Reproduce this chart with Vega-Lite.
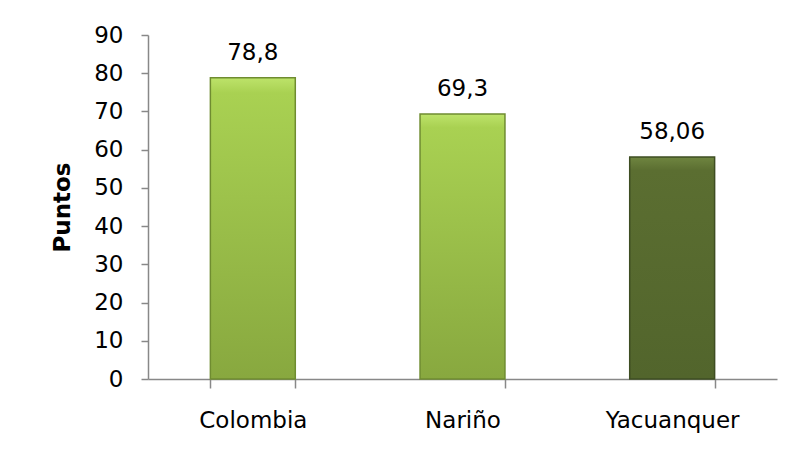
{
  "$schema": "https://vega.github.io/schema/vega-lite/v6.json",
  "autosize": {"type": "none"},
  "padding": {"left": 148, "top": 35, "right": 19, "bottom": 82},
  "width": 629,
  "height": 344,
  "background": "white",
  "config": {
    "locale": {"number": {"decimal": ",", "thousands": ".", "grouping": [3], "currency": ["", ""]}},
    "view": {"stroke": null},
    "font": "DejaVu Sans"
  },
  "data": {"values": [
    {"region": "Colombia", "puntos": 78.8},
    {"region": "Nariño", "puntos": 69.3},
    {"region": "Yacuanquer", "puntos": 58.06}
  ]},
  "encoding": {
    "x": {
      "field": "region", "type": "nominal", "sort": null,
      "scale": {"paddingInner": 0.595, "paddingOuter": 0.2975},
      "axis": {
        "title": null, "labelAngle": 0, "labelFont": "DejaVu Sans", "labelFontSize": 23,
        "labelColor": "black", "labelPadding": 21, "tickBand": "extent", "tickSize": 9,
        "domainColor": "#888888", "tickColor": "#888888", "domainWidth": 1.5, "tickWidth": 1.5
      }
    },
    "y": {
      "field": "puntos", "type": "quantitative",
      "scale": {"domain": [0, 90], "nice": false},
      "axis": {
        "title": "Puntos", "values": [0, 10, 20, 30, 40, 50, 60, 70, 80, 90],
        "grid": false, "labelFont": "DejaVu Sans", "labelFontSize": 23, "labelColor": "black",
        "labelPadding": 18, "tickSize": 7, "domainColor": "#888888", "tickColor": "#888888",
        "domainWidth": 1.5, "tickWidth": 1.5,
        "titleFont": "DejaVu Sans", "titleFontSize": 23, "titleFontWeight": "bold",
        "titleColor": "black", "titlePadding": 19
      }
    }
  },
  "layer": [
    {
      "mark": {"type": "bar", "strokeWidth": 1.5},
      "encoding": {
        "color": {
          "condition": {
            "test": "datum.region === 'Yacuanquer'",
            "value": {"gradient": "linear", "x1": 0, "y1": 0, "x2": 0, "y2": 1,
              "stops": [{"offset": 0, "color": "#6f8540"}, {"offset": 0.06, "color": "#5b6e31"}, {"offset": 1, "color": "#52652c"}]}
          },
          "value": {"gradient": "linear", "x1": 0, "y1": 0, "x2": 0, "y2": 1,
            "stops": [{"offset": 0, "color": "#bde36a"}, {"offset": 0.05, "color": "#a9d152"}, {"offset": 1, "color": "#88a83f"}]}
        },
        "stroke": {
          "condition": {"test": "datum.region === 'Yacuanquer'", "value": "#3e4d22"},
          "value": "#6f8c30"
        }
      }
    },
    {
      "mark": {"type": "text", "baseline": "bottom", "dy": -13, "font": "DejaVu Sans", "fontSize": 23, "color": "black"},
      "encoding": {
        "text": {"field": "puntos", "type": "quantitative", "format": "~g"}
      }
    }
  ]
}
